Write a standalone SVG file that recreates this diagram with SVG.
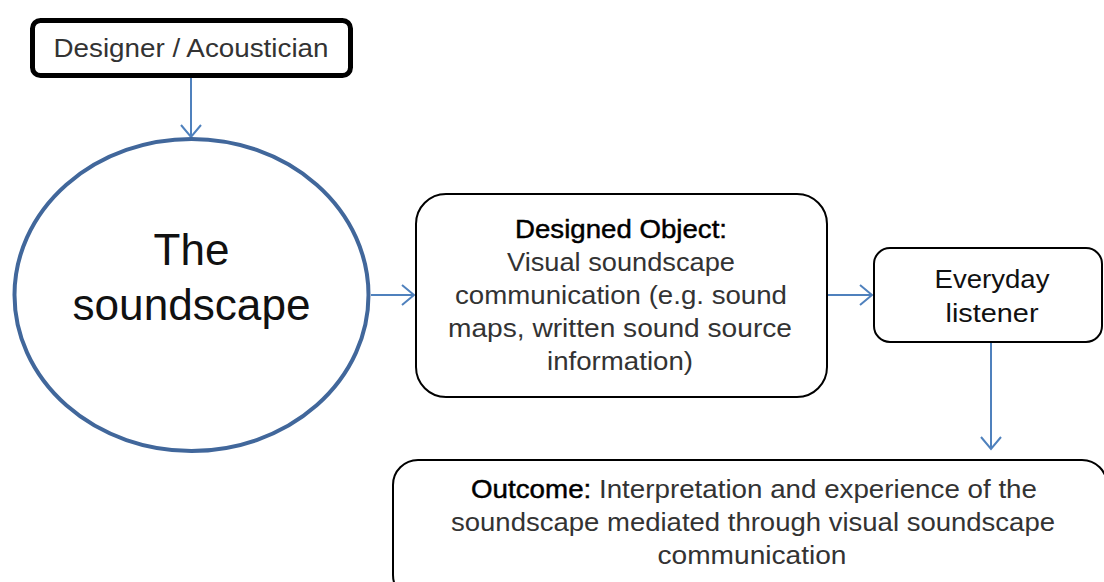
<svg xmlns="http://www.w3.org/2000/svg" width="1104" height="582" viewBox="0 0 1104 582">
<style>
.t{font-family:"Liberation Sans",Arial,sans-serif;fill:#333;text-anchor:middle}
.b{fill:#000;stroke:#000;stroke-width:0.45}
.box{fill:#fff;stroke:#000;stroke-width:2}
.conn{stroke:#4f81bd;stroke-width:2;fill:none}
</style>
<defs>
<marker id="ah" markerUnits="userSpaceOnUse" markerWidth="16" markerHeight="24" refX="13" refY="11" orient="auto">
<path d="M1,1 L13,11 L1,21" fill="none" stroke="#4f81bd" stroke-width="2"/>
</marker>
</defs>
<rect width="1104" height="582" fill="#fff"/>
<g id="connectors">
<line class="conn" x1="191" y1="78" x2="191" y2="137" marker-end="url(#ah)"/>
<line class="conn" x1="371" y1="295" x2="414" y2="295" marker-end="url(#ah)"/>
<line class="conn" x1="828" y1="295" x2="872" y2="295" marker-end="url(#ah)"/>
<line class="conn" x1="991" y1="343" x2="991" y2="449" marker-end="url(#ah)"/>
</g>
<g id="designer">
<rect x="32.5" y="20.5" width="318" height="55" rx="8" fill="#fff" stroke="#000" stroke-width="5"/>
<text class="t" x="191" y="57" font-size="26" textLength="275" lengthAdjust="spacingAndGlyphs">Designer / Acoustician</text>
</g>
<g id="soundscape">
<ellipse cx="191.5" cy="295" rx="177" ry="156" fill="#fff" stroke="#41679b" stroke-width="4"/>
<text class="t" x="191.5" y="265" font-size="44" style="fill:#111">The</text>
<text class="t" x="191.5" y="320" font-size="44" style="fill:#111" textLength="238" lengthAdjust="spacingAndGlyphs">soundscape</text>
</g>
<g id="designed-object">
<rect class="box" x="416" y="194" width="411" height="203" rx="30"/>
<text class="t b" x="621" y="238" font-size="26" textLength="212" lengthAdjust="spacingAndGlyphs">Designed Object:</text>
<text class="t" x="621" y="271" font-size="26" textLength="228" lengthAdjust="spacingAndGlyphs">Visual soundscape</text>
<text class="t" x="621" y="304" font-size="26" textLength="332" lengthAdjust="spacingAndGlyphs">communication (e.g. sound</text>
<text class="t" x="620" y="337" font-size="26" textLength="344" lengthAdjust="spacingAndGlyphs">maps, written sound source</text>
<text class="t" x="620" y="370" font-size="26" textLength="146" lengthAdjust="spacingAndGlyphs">information)</text>
</g>
<g id="listener">
<rect class="box" x="874" y="248" width="228" height="94" rx="16"/>
<text class="t" x="992" y="288" font-size="26" style="fill:#111" textLength="115" lengthAdjust="spacingAndGlyphs">Everyday</text>
<text class="t" x="992" y="322" font-size="26" style="fill:#111" textLength="93" lengthAdjust="spacingAndGlyphs">listener</text>
</g>
<g id="outcome">
<rect class="box" x="393" y="460" width="714" height="140" rx="25"/>
<text class="t" x="754" y="498" font-size="25" textLength="566" lengthAdjust="spacingAndGlyphs"><tspan class="b">Outcome:</tspan> Interpretation and experience of the</text>
<text class="t" x="753" y="531" font-size="25" textLength="604" lengthAdjust="spacingAndGlyphs">soundscape mediated through visual soundscape</text>
<text class="t" x="752" y="564" font-size="25" textLength="189" lengthAdjust="spacingAndGlyphs">communication</text>
</g>
</svg>
